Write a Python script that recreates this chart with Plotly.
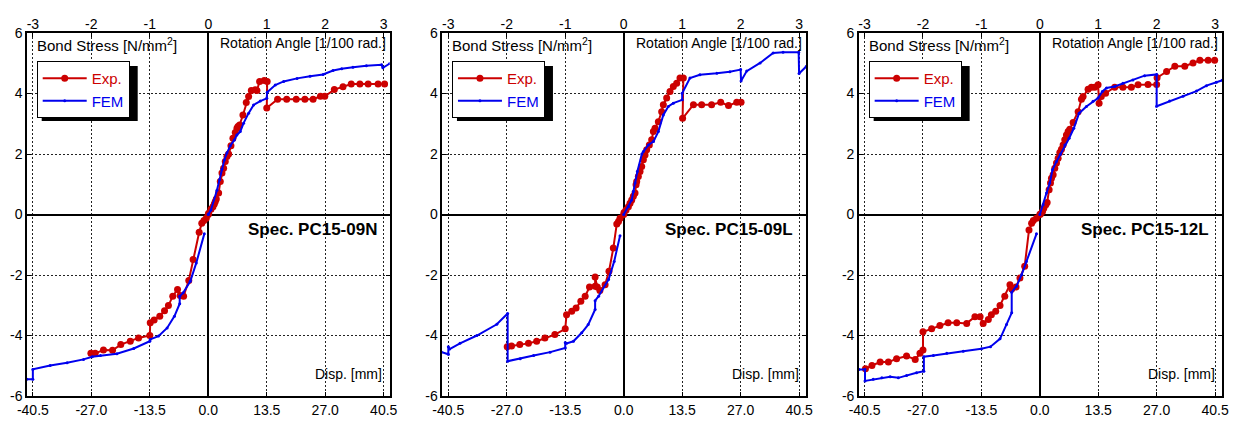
import plotly.graph_objects as go

# ---------------- data ----------------
specs = ["Spec. PC15-09N", "Spec. PC15-09L", "Spec. PC15-12L"]

disp_tickvals = [-40.5, -27.0, -13.5, 0.0, 13.5, 27.0, 40.5]
disp_ticktext = ["-40.5", "-27.0", "-13.5", "0.0", "13.5", "27.0", "40.5"]
rot_tickvals = [-3, -2, -1, 0, 1, 2, 3]
rot_ticktext = ["-3", "-2", "-1", "0", "1", "2", "3"]
stress_tickvals = [-6, -4, -2, 0, 2, 4, 6]
stress_ticktext = ["-6", "-4", "-2", "0", "2", "4", "6"]

# Spec 1 (PC15-09N)
exp1_pos_x = [0, 0.08, 0.62, 1.08, 1.39, 1.62, 1.85, 2.39, 2.77, 3.16, 3.54, 3.92, 4.31, 4.7, 5.23, 5.69, 6.23, 6.62, 6.85, 7.23,
              8.0, 8.77, 9.31, 9.93, 10.85, 11.23, 11.85, 12.92, 13.6, 13.5, 16.0, 18.1, 20.3, 22.3, 24.2, 25.9, 26.9, 29.1, 31.1, 33.0,
              35.0, 36.9, 39.2, 40.7]
exp1_pos_y = [0, 0.04, 0.17, 0.26, 0.35, 0.43, 0.51, 0.71, 1.09, 1.37, 1.53, 1.75, 1.92, 2.0, 2.27, 2.52, 2.71, 2.85, 2.91, 2.96,
              3.29, 3.7, 3.9, 4.1, 4.12, 4.1, 4.4, 4.43, 4.4, 3.52, 3.81, 3.81, 3.81, 3.81, 3.81, 3.91, 3.91, 4.13, 4.22, 4.31,
              4.31, 4.31, 4.31, 4.31]
exp1_neg_x = [-0.46, -1.0, -1.5, -2.1, -3.5, -4.5, -5.7, -6.5, -7.1, -8.2, -9.2, -10.1, -11.2, -12.5, -13.4, -13.5, -16.1, -18.0,
              -20.2, -22.1, -24.2, -26.1, -27.1]
exp1_neg_y = [-0.12, -0.2, -0.29, -0.59, -1.49, -2.18, -2.7, -2.68, -2.48, -2.7, -3.01, -3.18, -3.36, -3.49, -3.58, -4.0, -4.08,
              -4.19, -4.3, -4.49, -4.48, -4.59, -4.59]
fem1_pos_x = [0, 0.08, 0.62, 2.0, 2.6, 3.16, 3.7, 4.3, 5.08, 6.0, 6.6, 7.38, 8.15, 9.31, 10.46, 12.0, 13.5, 13.6, 15.46, 17.4,
              20.5, 23.5, 26.5, 28.8, 30.8, 33.4, 36.5, 40.0, 40.3, 41.9]
fem1_pos_y = [0, 0.02, 0.15, 0.8, 1.15, 1.5, 1.8, 2.03, 2.27, 2.46, 2.63, 2.74, 3.02, 3.35, 3.62, 3.75, 3.84, 4.04, 4.28, 4.4,
              4.5, 4.57, 4.63, 4.76, 4.82, 4.87, 4.92, 4.95, 4.85, 4.99]
fem1_neg_x = [-0.92, -2.77, -4.15, -5.8, -6.6, -6.6, -7.8, -9.5, -11.5, -13.4, -13.5, -17.2, -21.1, -24.9, -26.8, -28.8, -32.6,
              -36.5, -40.5, -40.5, -41.9]
fem1_neg_y = [-0.64, -1.6, -2.21, -2.59, -2.7, -2.95, -3.36, -3.75, -4.02, -4.13, -4.19, -4.43, -4.6, -4.66, -4.7, -4.79, -4.9,
              -4.99, -5.12, -5.45, -5.45]

# Spec 2 (PC15-09L)
exp2_pos_x = [0, 0.08, 0.54, 1.08, 1.46, 1.85, 2.23, 2.62, 2.85, 3.0, 3.38, 3.77, 4.15, 4.54, 4.92, 5.31, 5.92, 6.46, 6.85, 7.23,
              8.0, 8.77, 9.15, 9.92, 10.69, 11.46, 12.23, 13.0, 13.77, 13.6, 16.1, 18.0, 20.3, 22.4, 24.2, 26.1, 27.1]
exp2_pos_y = [0, 0.07, 0.15, 0.26, 0.37, 0.48, 0.6, 0.71, 0.98, 1.09, 1.26, 1.42, 1.59, 1.81, 1.97, 2.14, 2.3, 2.47, 2.74, 2.85,
              3.07, 3.4, 3.63, 3.85, 4.07, 4.23, 4.34, 4.51, 4.51, 3.18, 3.63, 3.63, 3.63, 3.71, 3.6, 3.71, 3.71]
exp2_neg_x = [-0.85, -1.2, -1.6, -2.4, -3.4, -4.3, -5.5, -6.1, -6.6, -6.6, -7.9, -8.9, -9.9, -11.0, -12.0, -13.2, -13.5, -15.9,
              -18.2, -20.1, -22.0, -24.0, -25.9, -26.9]
exp2_neg_y = [-0.12, -0.23, -0.31, -1.11, -1.88, -2.32, -2.51, -2.4, -2.07, -2.37, -2.4, -2.7, -2.87, -3.09, -3.2, -3.31, -3.78,
              -3.97, -4.08, -4.19, -4.26, -4.3, -4.35, -4.37]
fem2_pos_x = [0, 1.08, 1.85, 2.23, 2.62, 3.15, 4.2, 4.54, 5.7, 6.85, 8.0, 9.15, 10.3, 11.46, 13.5, 13.5, 15.3, 17.6, 21.5, 24.5,
              27.0, 27.1, 28.4, 31.5, 34.5, 36.8, 40.4, 40.5, 42.2]
fem2_pos_y = [0, 0.26, 0.48, 0.76, 1.04, 1.42, 2.0, 2.08, 2.3, 2.41, 2.74, 3.29, 3.57, 3.68, 3.79, 4.01, 4.51, 4.62, 4.67, 4.72,
              4.79, 4.41, 4.74, 5.01, 5.34, 5.36, 5.36, 4.66, 4.9]
fem2_neg_x = [-0.85, -2.2, -3.5, -5.8, -6.6, -6.6, -8.2, -9.7, -11.6, -13.2, -13.5, -13.5, -17.0, -20.8, -23.9, -26.8, -26.8,
              -29.3, -33.9, -37.8, -40.2, -40.5, -40.5, -42.0]
fem2_neg_y = [-0.7, -1.55, -2.15, -2.7, -2.85, -3.14, -3.64, -3.91, -4.19, -4.26, -4.24, -4.41, -4.55, -4.66, -4.77, -4.85, -3.27,
              -3.63, -4.0, -4.26, -4.45, -4.37, -4.62, -4.55]

# Spec 3 (PC15-12L)
exp3_pos_x = [0, 0.15, 0.62, 0.92, 1.38, 1.69, 2.15, 2.46, 2.69, 3.08, 3.46, 3.85, 4.23, 4.62, 5.0, 5.38, 5.77, 6.15, 6.54, 6.92,
              7.69, 8.85, 9.62, 10.0, 11.15, 11.92, 12.69, 13.46, 13.7, 14.2, 15.2, 17.3, 19.2, 21.15, 22.7, 25.0, 27.0, 27.1, 29.3,
              31.2, 33.5, 35.4, 37.0, 38.9, 40.4]
exp3_pos_y = [0, 0.02, 0.1, 0.21, 0.32, 0.4, 0.82, 1.04, 1.2, 1.31, 1.53, 1.7, 1.86, 2.05, 2.16, 2.3, 2.47, 2.63, 2.74, 2.82,
              3.04, 3.4, 3.81, 3.9, 4.14, 4.21, 4.21, 4.29, 3.68, 3.9, 4.01, 4.21, 4.21, 4.21, 4.29, 4.3, 4.3, 4.52, 4.73,
              4.9, 4.9, 5.01, 5.1, 5.1, 5.1]
exp3_neg_x = [-0.77, -1.5, -1.9, -2.5, -3.5, -4.6, -5.5, -6.5, -6.9, -8.1, -9.2, -10.2, -11.2, -11.9, -13.1, -13.8, -15.0, -16.9,
              -19.2, -21.2, -23.1, -25.0, -27.0, -27.0, -27.7, -28.8, -30.8, -33.1, -35.0, -36.9, -38.8, -40.3]
exp3_neg_y = [-0.12, -0.2, -0.29, -0.51, -1.71, -2.1, -2.4, -2.46, -2.32, -2.7, -3.01, -3.2, -3.31, -3.47, -3.6, -3.38, -3.38,
              -3.6, -3.58, -3.58, -3.67, -3.78, -3.88, -4.48, -4.59, -4.79, -4.68, -4.77, -4.88, -4.88, -4.99, -5.1]
fem3_pos_x = [0, 0.77, 1.54, 2.31, 2.92, 3.85, 4.77, 5.77, 6.77, 7.85, 9.08, 10.77, 12.3, 13.46, 14.46, 15.4, 17.3, 19.2, 21.5,
              24.2, 27.0, 27.0, 30.0, 33.1, 36.2, 38.5, 40.8, 42.2]
fem3_pos_y = [0, 0.32, 0.71, 1.04, 1.48, 1.75, 1.99, 2.3, 2.52, 2.85, 3.35, 3.57, 3.74, 3.85, 4.07, 4.18, 4.23, 4.34, 4.45,
              4.59, 4.63, 3.58, 3.75, 3.91, 4.08, 4.26, 4.37, 4.44]
fem3_neg_x = [-0.77, -3.1, -4.2, -5.4, -6.5, -6.5, -7.7, -9.2, -11.4, -13.5, -17.7, -21.5, -24.6, -26.8, -26.8, -28.5, -30.8,
              -32.7, -34.6, -36.5, -38.5, -40.4, -40.4, -41.8]
fem3_neg_y = [-0.64, -1.55, -1.99, -2.37, -2.57, -3.25, -3.64, -4.11, -4.37, -4.44, -4.52, -4.59, -4.66, -4.7, -5.18, -5.23,
              -5.32, -5.4, -5.36, -5.4, -5.45, -5.5, -5.12, -5.12]

MM_PER_ROT = 13.5  # 1/100 rad corresponds to 13.5 mm

# ---------------- figure ----------------
FONT = "Liberation Sans, Arial, sans-serif"
RED = "#cc0000"
BLUE = "#0000ee"
W, H = 1239, 421
ML, MR, MT, MB = 27, 17, 33, 25
PW = W - ML - MR
PH = H - MT - MB

domains = [[0.0, 0.3034], [0.3475, 0.6519], [0.6962, 1.0]]
xranges = [[-41.85, 41.85], [-41.9, 42.1], [-41.8, 42.1]]

panels = [
    (exp1_pos_x, exp1_pos_y, exp1_neg_x, exp1_neg_y, fem1_pos_x, fem1_pos_y, fem1_neg_x, fem1_neg_y),
    (exp2_pos_x, exp2_pos_y, exp2_neg_x, exp2_neg_y, fem2_pos_x, fem2_pos_y, fem2_neg_x, fem2_neg_y),
    (exp3_pos_x, exp3_pos_y, exp3_neg_x, exp3_neg_y, fem3_pos_x, fem3_pos_y, fem3_neg_x, fem3_neg_y),
]

fig = go.Figure()
layout = dict(
    width=W, height=H,
    margin=dict(l=ML, r=MR, t=MT, b=MB, pad=0, autoexpand=False),
    paper_bgcolor="white", plot_bgcolor="white",
    font=dict(family=FONT, size=14, color="black"),
    showlegend=True,
)
annotations = []
shapes = []

for i, (epx, epy, enx, eny, fpx, fpy, fnx, fny) in enumerate(panels):
    n = i + 1
    xa = "x" if n == 1 else f"x{n}"
    ya = "y" if n == 1 else f"y{n}"
    xtop = f"x{n + 3}"
    lg = "legend" if n == 1 else f"legend{n}"

    exp_x = list(reversed(enx)) + list(epx)
    exp_y = list(reversed(eny)) + list(epy)
    fem_x = list(reversed(fnx)) + [None] + list(fpx)
    fem_y = list(reversed(fny)) + [None] + list(fpy)

    fig.add_trace(go.Scatter(
        x=exp_x, y=exp_y, xaxis=xa, yaxis=ya, mode="lines+markers",
        name=f"<span style='color:{RED}'>Exp.</span>", legend=lg,
        line=dict(color=RED, width=2), marker=dict(size=7, color=RED),
    ))
    fig.add_trace(go.Scatter(
        x=fem_x, y=fem_y, xaxis=xa, yaxis=ya, mode="lines+markers",
        name=f"<span style='color:{BLUE}'>FEM</span>", legend=lg,
        line=dict(color=BLUE, width=2), marker=dict(size=3, color=BLUE),
        connectgaps=False,
    ))

    axkey_x = "xaxis" if n == 1 else f"xaxis{n}"
    axkey_y = "yaxis" if n == 1 else f"yaxis{n}"
    axkey_top = f"xaxis{n + 3}"

    layout[axkey_x] = dict(
        domain=domains[i], anchor=ya, range=xranges[i], automargin=False,
        tickmode="array", tickvals=disp_tickvals, ticktext=disp_ticktext,
        ticks="inside", ticklen=4, tickwidth=1, tickcolor="black",
        showline=True, linecolor="black", linewidth=1.5, mirror=True,
        showgrid=True, gridcolor="#222", gridwidth=1, griddash="2px,2px",
        zeroline=True, zerolinecolor="black", zerolinewidth=2,
        tickfont=dict(size=14, family=FONT), fixedrange=True,
    )
    layout[axkey_top] = dict(
        overlaying=xa, anchor=ya, side="top", automargin=False,
        range=[xranges[i][0] / MM_PER_ROT, xranges[i][1] / MM_PER_ROT],
        tickmode="array", tickvals=rot_tickvals, ticktext=rot_ticktext,
        ticks="inside", ticklen=4, tickwidth=1, tickcolor="black",
        showline=False, showgrid=False, zeroline=False,
        tickfont=dict(size=14, family=FONT), fixedrange=True,
    )
    layout[axkey_y] = dict(
        domain=[0, 1], anchor=xa, range=[-6, 6], automargin=False,
        tickmode="array", tickvals=stress_tickvals, ticktext=stress_ticktext,
        ticks="inside", ticklen=4, tickwidth=1, tickcolor="black",
        showline=True, linecolor="black", linewidth=1.5, mirror="ticks",
        showgrid=True, gridcolor="#222", gridwidth=1, griddash="2px,2px",
        zeroline=True, zerolinecolor="black", zerolinewidth=2,
        tickfont=dict(size=14, family=FONT), fixedrange=True,
    )
    # top axis needs a (hidden) trace to render
    fig.add_trace(go.Scatter(x=[xranges[i][0] / MM_PER_ROT], y=[None], xaxis=xtop, yaxis=ya,
                             showlegend=False, hoverinfo="skip", mode="markers"))

    # legend box + shadow
    lx_px = 9.7 + (domains[i][0] * PW)
    lx = lx_px / PW
    ly = 1 - 28.0 / PH
    layout[lg] = dict(
        x=lx, y=ly, xanchor="left", yanchor="top", xref="paper", yref="paper",
        bgcolor="white", bordercolor="black", borderwidth=1,
        font=dict(size=15, family=FONT), tracegroupgap=0, itemwidth=44,
        traceorder="normal",
    )
    lw, lh = 96, 55
    shapes.append(dict(
        type="rect", xref="paper", yref="paper", layer="above",
        x0=(lx_px + 5) / PW, x1=(lx_px + lw + 5) / PW,
        y0=ly - (lh + 5) / PH, y1=ly - 5 / PH,
        fillcolor="black", line=dict(width=0),
    ))

    xd = f"{xa} domain"
    yd = f"{ya} domain"
    annotations += [
        dict(text="Bond Stress [N/mm<sup>2</sup>]", xref=xd, yref=yd, x=0.022, y=1.0,
             xanchor="left", yanchor="top", showarrow=False, font=dict(size=15, family=FONT)),
        dict(text="Rotation Angle [1/100 rad.]", xref=xd, yref=yd, x=0.995, y=1.0,
             xanchor="right", yanchor="top", showarrow=False, font=dict(size=14, family=FONT)),
        dict(text=f"<b>{specs[i]}</b>", xref=xd, yref=yd, x=0.97, y=0.46,
             xanchor="right", yanchor="middle", showarrow=False, font=dict(size=17, family=FONT)),
        dict(text="Disp. [mm]", xref=xd, yref=yd, x=0.985, y=0.06,
             xanchor="right", yanchor="middle", showarrow=False, font=dict(size=14, family=FONT)),
    ]

layout["annotations"] = annotations
layout["shapes"] = shapes
fig.update_layout(**layout)
fig.write_html("out.html", config={"displayModeBar": False},
               post_script="document.body.style.margin='0';document.body.style.padding='0';")
